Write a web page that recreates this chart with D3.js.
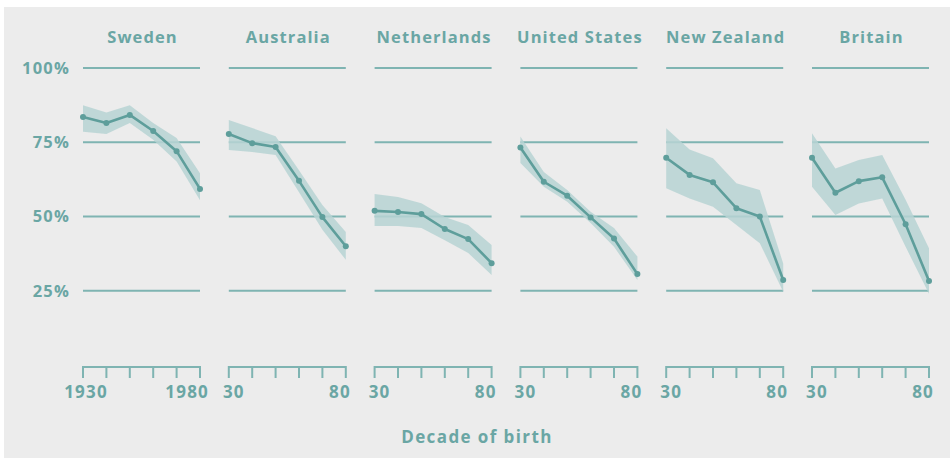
<!DOCTYPE html>
<html>
<head>
<meta charset="utf-8">
<script src="https://cdn.jsdelivr.net/npm/d3@7"></script>
<style>
  html, body { margin: 0; padding: 0; background: #fff; }
  svg { display: block; }
  text { font-family: 'Open Sans', sans-serif; font-weight: 700; fill: #6aa6a4; }
</style>
</head>
<body>
<svg id="chart" width="950" height="458"></svg>
<script>
'use strict'

const countries = ['Sweden', 'Australia', 'Netherlands', 'United States', 'New Zealand', 'Britain']
const decades = [1930, 1940, 1950, 1960, 1970, 1980]
const yTicks = [25, 50, 75, 100]

// central estimate, % per decade of birth
const sweden = [83.5, 81.5, 84.2, 78.8, 72, 59.3]
const australia = [77.8, 74.7, 73.4, 62, 49.8, 40]
const netherlands = [51.9, 51.5, 50.8, 45.8, 42.4, 34.3]
const unitedStates = [73.2, 61.7, 57, 49.7, 42.6, 30.6]
const newZealand = [69.8, 64, 61.5, 52.8, 50, 28.6]
const britain = [69.8, 58, 61.9, 63.2, 47.4, 28.3]

// confidence band, upper and lower
const swedenHi = [87.5, 85, 87.5, 81.5, 76.4, 64.6]
const swedenLo = [78.5, 77.8, 81.5, 75.8, 68.5, 55.5]
const australiaHi = [82.5, 79.8, 77, 65.6, 53.9, 44.8]
const australiaLo = [72.4, 71.7, 70.7, 58.2, 45.5, 35.4]
const netherlandsHi = [57.6, 56.6, 54.5, 49.8, 47.1, 40.4]
const netherlandsLo = [46.8, 46.8, 46.1, 42, 37.7, 30.3]
const unitedStatesHi = [76.9, 65, 58.9, 51.6, 46.1, 36.5]
const unitedStatesLo = [68, 60, 55, 47.8, 39.8, 28.6]
const newZealandHi = [79.7, 72.6, 69.6, 61.2, 58.9, 34.2]
const newZealandLo = [59.5, 56.1, 53.3, 47.1, 41, 24.7]
const britainHi = [78, 66.2, 69, 70.7, 55.6, 39.3]
const britainLo = [60, 50.5, 54.4, 56.1, 39.8, 24]

const values = [sweden, australia, netherlands, unitedStates, newZealand, britain]
const highs = [swedenHi, australiaHi, netherlandsHi, unitedStatesHi, newZealandHi, britainHi]
const lows = [swedenLo, australiaLo, netherlandsLo, unitedStatesLo, newZealandLo, britainLo]

const svg = d3.select('#chart')
svg.append('rect').attr('x', 4).attr('y', 7).attr('width', 946).attr('height', 451).attr('fill', '#ececec')

const gridColor = '#7fb4b2'
const lineColor = '#5e9e9b'
const bandColor = '#b7d4d3'

let panelW = 117
let px = d3.scalePoint().domain(countries).range([83, 812])
let x = d3.scaleLinear().domain([1930, 1980]).range([0, panelW])
let y = d3.scaleLinear().domain([0, 100]).range([365, 68])

// y labels
svg.append('g')
    .selectAll('text')
    .data(yTicks)
    .enter()
    .append('text')
    .attr('x', 70)
    .attr('y', d => y(d))
    .attr('dy', '.36em')
    .attr('text-anchor', 'end')
    .attr('font-size', '16.5px')
    .attr('letter-spacing', '1.2px')
    .text(d => d + '%')

countries.forEach((c, i) => {
    let g = svg.append('g').attr('transform', `translate(${px(c)}, 0)`)
    let rows = decades.map((d, j) => ({ year: d, v: values[i][j], hi: highs[i][j], lo: lows[i][j] }))

    g.append('text')
        .attr('x', panelW / 2 + 1)
        .attr('y', 43)
        .attr('text-anchor', 'middle')
        .attr('font-size', '16.5px')
        .attr('letter-spacing', '1.1px')
        .text(c)

    g.selectAll('.grid')
        .data(yTicks)
        .enter()
        .append('line')
        .attr('class', 'grid')
        .attr('x1', 0)
        .attr('x2', panelW)
        .attr('y1', d => y(d))
        .attr('y2', d => y(d))
        .attr('stroke', gridColor)
        .attr('stroke-width', 2)

    g.append('path')
        .datum(rows)
        .attr('fill', bandColor)
        .attr('fill-opacity', 0.85)
        .attr('d', d3.area().x(d => x(d.year)).y0(d => y(d.lo)).y1(d => y(d.hi)))

    g.append('path')
        .datum(rows)
        .attr('fill', 'none')
        .attr('stroke', lineColor)
        .attr('stroke-width', 2.6)
        .attr('stroke-linejoin', 'round')
        .attr('d', d3.line().x(d => x(d.year)).y(d => y(d.v)))

    g.selectAll('circle')
        .data(rows)
        .enter()
        .append('circle')
        .attr('cx', d => x(d.year))
        .attr('cy', d => y(d.v))
        .attr('r', 3)
        .attr('fill', lineColor)

    // x axis
    let ax = g.append('g').attr('transform', 'translate(0, 367)')
    ax.append('line').attr('x1', 0).attr('x2', panelW).attr('stroke', gridColor).attr('stroke-width', 2)
    ax.selectAll('.tick')
        .data(decades)
        .enter()
        .append('line')
        .attr('class', 'tick')
        .attr('x1', d => x(d))
        .attr('x2', d => x(d))
        .attr('y1', -1)
        .attr('y2', 11)
        .attr('stroke', gridColor)
        .attr('stroke-width', 2)

    let first = i === 0 ? '1930' : '30'
    let last = i === 0 ? '1980' : '80'
    ax.append('text')
        .attr('x', x(1930) + (i === 0 ? 3 : 5))
        .attr('y', 31)
        .attr('text-anchor', 'middle')
        .attr('font-size', '17px')
        .attr('letter-spacing', '1.2px')
        .text(first)
    ax.append('text')
        .attr('x', x(1980) + (i === 0 ? 9 : 5))
        .attr('y', 31)
        .attr('text-anchor', 'end')
        .attr('font-size', '17px')
        .attr('letter-spacing', '1.2px')
        .text(last)
})

svg.append('text')
    .attr('x', 477)
    .attr('y', 443)
    .attr('text-anchor', 'middle')
    .attr('font-size', '17px')
    .attr('letter-spacing', '1.4px')
    .text('Decade of birth')
</script>
</body>
</html>
